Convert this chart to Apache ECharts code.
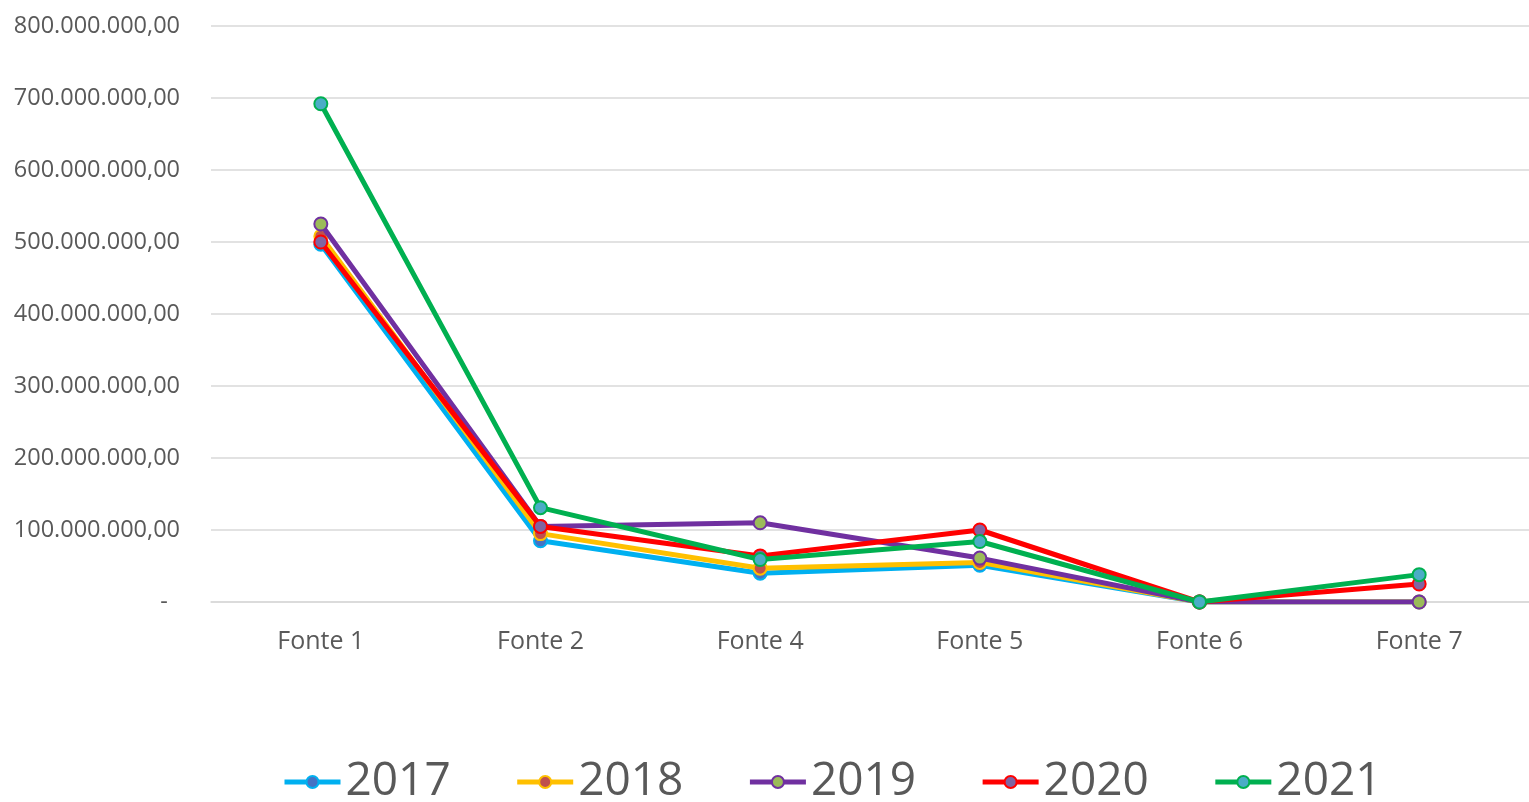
<!DOCTYPE html>
<html><head><meta charset="utf-8">
<script src="https://cdn.jsdelivr.net/npm/echarts@6/dist/echarts.min.js"></script>
<style>html,body{margin:0;padding:0;background:#fff}#c{width:1529px;height:802px}</style>
</head><body><div id="c"></div>
<script>
const categories = ['Fonte 1','Fonte 2','Fonte 4','Fonte 5','Fonte 6','Fonte 7'];
const s2017 = [497000000, 85000000, 40000000, 51000000, 0, 0];
const s2018 = [508000000, 95000000, 47000000, 55000000, 0, 0];
const s2019 = [525000000, 105000000, 110000000, 61000000, 0, 0];
const s2020 = [500000000, 105000000, 64000000, 100000000, 0, 25000000];
const s2021 = [692000000, 131000000, 59000000, 84000000, 0, 38000000];
const seriesNames = ['2017','2018','2019','2020','2021'];
const lineColors = ['#00B0F0','#FFC000','#7030A0','#FF0000','#00B050'];
const markerColors = ['#4472C4','#C0504D','#9BBB59','#8064A2','#4BACC6'];
const allData = [s2017, s2018, s2019, s2020, s2021];

function fmt(v){
  if (v === 0) return '-  ';
  const s = Math.round(v).toString().replace(/\B(?=(\d{3})+(?!\d))/g, '.');
  return s + ',00';
}

const chart = echarts.init(document.getElementById('c'));
chart.setOption({
  animation: false,
  textStyle: {fontFamily: 'Open Sans'},
  grid: {left: 211, right: -2, top: 26, bottom: 200},
  xAxis: {
    type: 'category', data: categories, boundaryGap: true,
    axisLine: {lineStyle: {color: '#d9d9d9', width: 1.5}},
    axisTick: {show: false},
    axisLabel: {color: '#595959', fontSize: 25, margin: 27, fontFamily: 'Open Sans'}
  },
  yAxis: {
    type: 'value', min: 0, max: 800000000, interval: 100000000,
    axisLine: {show: false}, axisTick: {show: false},
    splitLine: {lineStyle: {color: '#d9d9d9', width: 1.5}},
    axisLabel: {color: '#595959', fontSize: 23.5, margin: 31, formatter: fmt, fontFamily: 'Open Sans'}
  },
  legend: {
    left: 277, top: 752, itemWidth: 56, itemHeight: 15, itemGap: 64,
    textStyle: {color: '#595959', fontSize: 46, fontFamily: 'Open Sans', lineHeight: 50},
    data: seriesNames.map((n, i) => ({name: n, lineStyle: {width: 5, color: lineColors[i]}}))
  },
  series: seriesNames.map((n, i) => ({
    name: n, type: 'line', data: allData[i],
    symbol: 'circle', symbolSize: 13,
    lineStyle: {color: lineColors[i], width: 5},
    itemStyle: {color: markerColors[i], borderColor: lineColors[i], borderWidth: 2},
    z: 2 + i
  }))
});
</script></body></html>
